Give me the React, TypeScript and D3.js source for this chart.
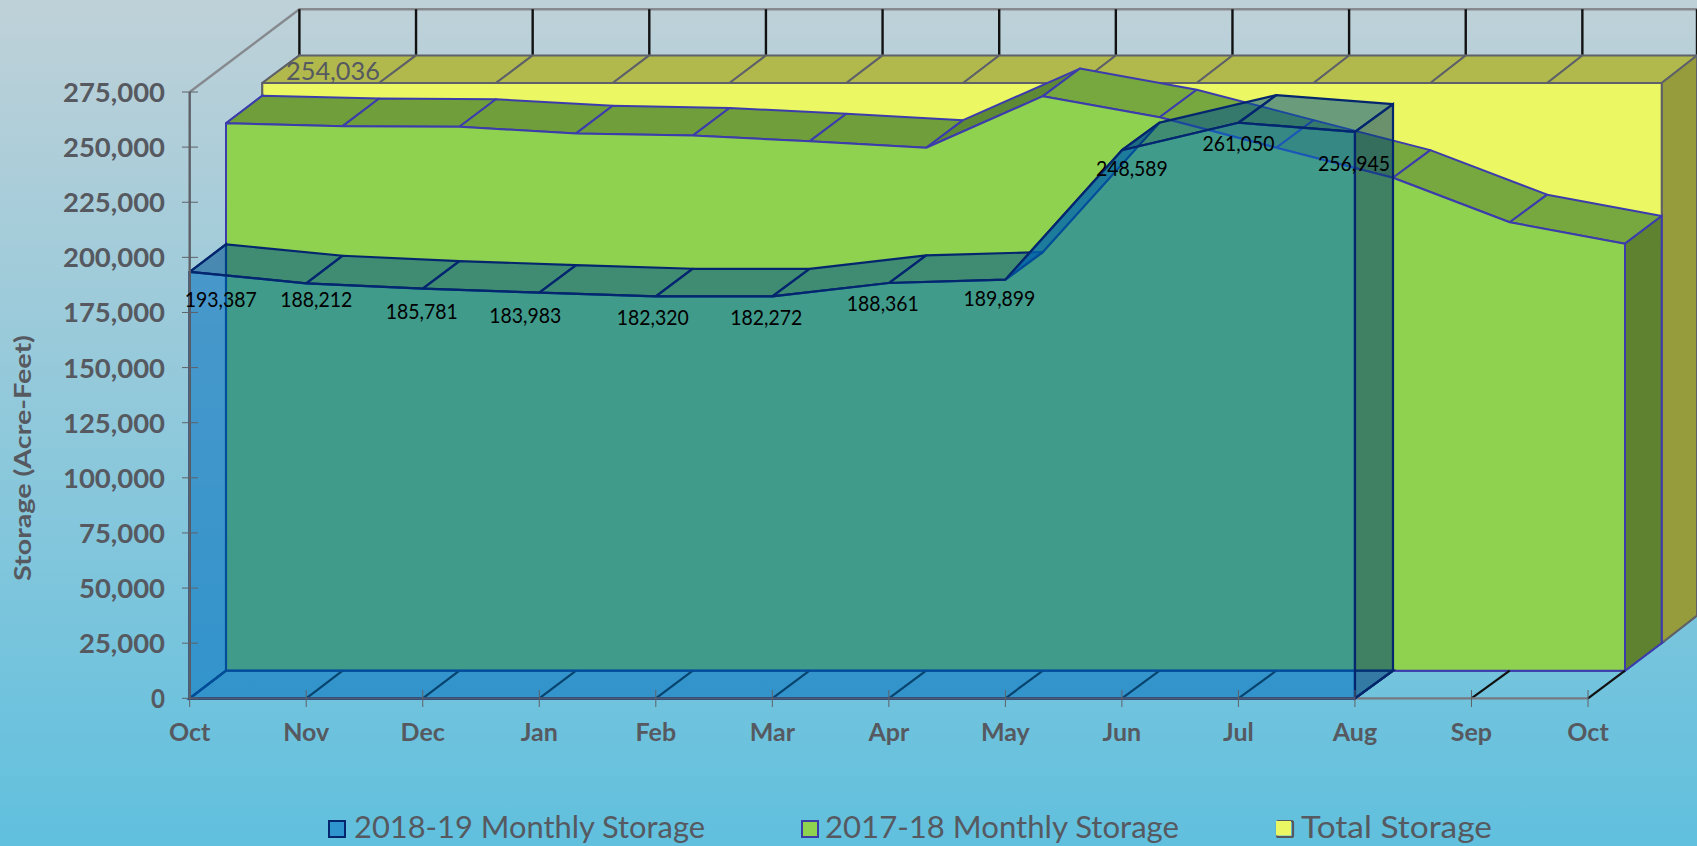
import React from "react";
import * as d3 from "d3";

const months = ["Oct","Nov","Dec","Jan","Feb","Mar","Apr","May","Jun","Jul","Aug","Sep","Oct"];
const yTicks = [0,25000,50000,75000,100000,125000,150000,175000,200000,225000,250000,275000];
const storage201819 = [193387,188212,185781,183983,182320,182272,188361,189899,248589,261050,256945];
const storage201718 = [248300,247000,246700,243700,242700,240100,237200,260600,251000,237200,223600,203400,193700];
const totalStorage = Array.from({length:13},()=>254036);
const legendItems = ["2018-19 Monthly Storage","2017-18 Monthly Storage","Total Storage"];

// label nudges relative to each 2018-19 point (layout, not data)
const labelDx = [31,10,-1,-14,-3,-6,-6,-6,10,0,-1];
const labelDy = [28,17,23,23,21.5,21.5,21,19,19,21,32.5];

const W=1697,H=846;
const y=d3.scaleLinear().domain([0,275000]).range([698.3,92]);
const DY=-27.6;
// one horizontal scale per depth plane of the 3-D box
const planeX=[
  d3.scaleLinear().domain([0,12]).range([189.7,1588]),
  d3.scaleLinear().domain([0,12]).range([226,1626.4]).clamp(true),
  d3.scaleLinear().domain([0,12]).range([262.3,1664]).clamp(true),
  d3.scaleLinear().domain([0,12]).range([299.4,1699]).clamp(true),
];
const planeMax=[1588,1625,1661.7,1697];
const x=planeX[0];
const P=(k:number,v:number,l:number):[number,number]=>[Math.min(planeX[l](k),planeMax[l]),y(v)+l*DY];
const line=d3.line<[number,number]>();
const poly=(pts:[number,number][])=>line(pts)+"Z";
const FONT="Lato, 'Noto Sans', sans-serif";
const GREY="#565960";

function Txt({x:tx,y:ty,w,size,weight,fill,anchor="middle",children,transform}:any){
  return <text x={tx} y={ty} fontFamily={FONT} fontSize={size} fontWeight={weight||400} fill={fill} textAnchor={anchor}
    textLength={w||undefined} lengthAdjust="spacingAndGlyphs" transform={transform}>{children}</text>;
}

function Series({vals,layer,front,top,side,stroke,sw,opacity,topFill}:any){
  const n=vals.length;
  const frontPts:[number,number][]=[P(0,0,layer),...vals.map((v:number,k:number)=>P(k,v,layer)),P(n-1,0,layer)];
  return <g>
    <path d={poly([P(0,0,layer),P(0,vals[0],layer),P(0,vals[0],layer+1),P(0,0,layer+1)])} fill="none" stroke={stroke} strokeWidth={sw}/>
    <path d={poly([P(0,0,layer),P(n-1,0,layer),P(n-1,0,layer+1),P(0,0,layer+1)])} fill="none" stroke={stroke} strokeWidth={sw}/>
    {vals.slice(0,-1).map((v:number,k:number)=>(
      <path key={k} d={poly([P(k,v,layer),P(k+1,vals[k+1],layer),P(k+1,vals[k+1],layer+1),P(k,v,layer+1)])}
        fill={topFill?topFill(v,vals[k+1]):top} fillOpacity={opacity} stroke={stroke} strokeWidth={sw} strokeLinejoin="round"/>
    ))}
    <path d={poly([P(n-1,0,layer),P(n-1,vals[n-1],layer),P(n-1,vals[n-1],layer+1),P(n-1,0,layer+1)])} fill={side} fillOpacity={opacity} stroke={stroke} strokeWidth={sw}/>
    <path d={poly(frontPts)} fill={front} fillOpacity={opacity} stroke={stroke} strokeWidth={sw} strokeLinejoin="round"/>
  </g>;
}

export default function App(){
  const greenTop=(a:number,b:number)=>b-a>10000?"#5f8a35":b-a<-5000?"#76a83f":"#6f9e3b";
  const legendLayout=[
    {sx:328,tx:354,w:351,fill:"#2f95cf",stroke:"#04266e"},
    {sx:801,tx:825,w:354,fill:"#8fd24f",stroke:"#3c3ca8"},
  ];
  const fmt=d3.format(",");
  const tickW=(s:string)=>s.length===1?14:s.length===6?86:102;
  return <svg width={W} height={H} viewBox={`0 0 ${W} ${H}`} style={{position:"fixed",left:0,top:0,display:"block"}}>
    <defs>
      <linearGradient id="bg" x1="0" y1="0" x2="0" y2="1">
        <stop offset="0" stopColor="#bfd1d8"/>
        <stop offset="1" stopColor="#60c0de"/>
      </linearGradient>
    </defs>
    <rect width={W} height={H} fill="url(#bg)"/>

    {/* walls */}
    <path d={line([P(0,275000,0),P(0,275000,3),P(12,275000,3)])!} fill="none" stroke="#868a8e" strokeWidth={2.4}/>
    {months.map((_,k)=>{
      const a=P(k,275000,3),b=P(k,254036,3);
      return <line key={k} x1={a[0]} y1={a[1]} x2={b[0]} y2={b[1]} stroke="#111" strokeWidth={2.4}/>;
    })}

    <Series vals={totalStorage} layer={2} front="#ebf763" top="#b1b94d" side="#969c3c" stroke="#5e6168" sw={2} opacity={1}/>
    <Series vals={storage201718} layer={1} front="#8fd24f" top="#6f9e3b" side="#5f8230" stroke="#3c3cac" sw={2} opacity={1} topFill={greenTop}/>

    {/* floor divisions */}
    {months.map((_,k)=>{
      const a=P(k,0,0),b=P(k,0,1);
      return <line key={k} x1={a[0]} y1={a[1]} x2={b[0]} y2={b[1]} stroke="#111" strokeWidth={2.2}/>;
    })}
    {/* x axis baseline */}
    <path d={line([P(0,0,0),P(12,0,0)])!} fill="none" stroke="#77797f" strokeWidth={2.2}/>
    <Series vals={storage201819} layer={0} front="rgb(0,110,190)" top="rgb(0,82,145)" side="rgb(0,62,117)" stroke="#04266e" sw={2.2} opacity={0.55}/>

    {/* y axis */}
    <line x1={x(0)} y1={y(0)} x2={x(0)} y2={y(275000)} stroke="#5f6168" strokeWidth={2.4}/>
    <line x1={x(0)} y1={y(0)} x2={x(10)} y2={y(0)} stroke="#4c5a75" strokeWidth={2.2}/>
    {yTicks.map(t=><g key={t}>
      <line x1={182} x2={198} y1={y(t)} y2={y(t)} stroke="#5f6168" strokeWidth={1}/>
      <Txt x={165} y={y(t)+10} anchor="end" size={26} weight={700} fill={GREY} w={tickW(fmt(t))}>{fmt(t)}</Txt>
    </g>)}
    {months.map((m,k)=><g key={k}>
      <line x1={x(k)} x2={x(k)} y1={690} y2={707} stroke="#5f6168" strokeWidth={1}/>
      <Txt x={x(k)} y={741} size={25} weight={700} fill={GREY}>{m}</Txt>
    </g>)}
    <Txt x={31} y={458} size={22} weight={700} fill={GREY} w={246} transform="rotate(-90 31 458)">Storage (Acre-Feet)</Txt>

    {/* data labels */}
    {storage201819.map((v,k)=>
      <Txt key={k} x={x(k)+labelDx[k]} y={y(v)+labelDy[k]+7} size={22} fill="#000" w={72}>{fmt(v)}</Txt>
    )}
    <Txt x={286} y={80} anchor="start" size={25} fill={GREY} w={94}>{fmt(totalStorage[0])}</Txt>

    {/* legend */}
    {legendLayout.map((l,i)=>(
      <g key={i}>
        <rect x={l.sx+1} y={821} width={16} height={16} fill={l.fill} stroke={l.stroke} strokeWidth={2}/>
        <Txt x={l.tx} y={838} anchor="start" size={30} fill={GREY} w={l.w}>{legendItems[i]}</Txt>
      </g>
    ))}
    <rect x={1277} y={821} width={16} height={16} rx={1.5} fill="none" stroke={GREY} strokeWidth={2.2}/>
    <rect x={1276} y={821} width={15} height={14.5} fill="#ebf763"/>
    <Txt x={1301} y={838} anchor="start" size={30} fill={GREY} w={191}>{legendItems[2]}</Txt>
  </svg>;
}
